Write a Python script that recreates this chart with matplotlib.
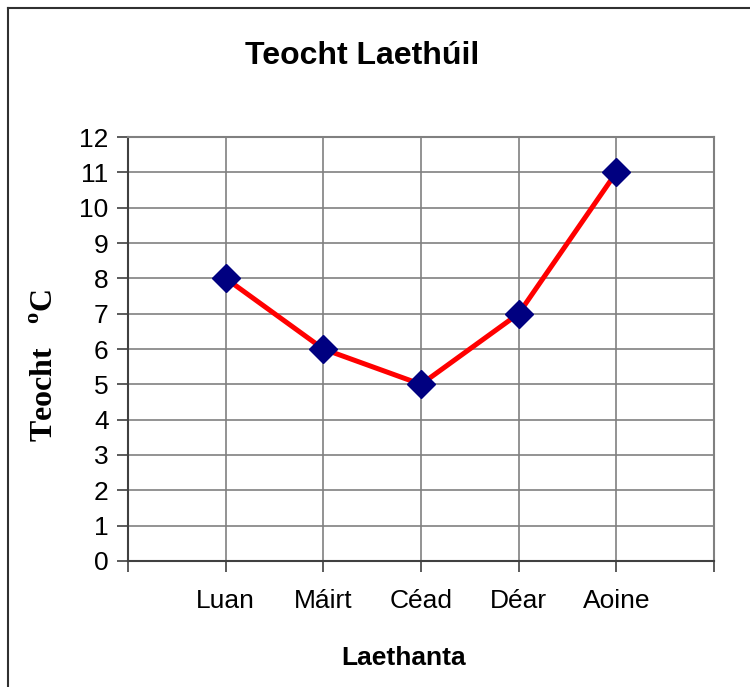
import matplotlib
matplotlib.use("Agg")
import matplotlib.pyplot as plt
from matplotlib.lines import Line2D

days = ["Luan", "Máirt", "Céad", "Déar", "Aoine"]
temps = [8, 6, 5, 7, 11]
yticks = list(range(0, 13))

plt.rcParams['font.family'] = ['Liberation Sans', 'DejaVu Sans']
plt.rcParams['mathtext.fontset'] = 'custom'
plt.rcParams['mathtext.rm'] = 'Liberation Serif:bold'
plt.rcParams['mathtext.bf'] = 'Liberation Serif:bold'

W, H = 750, 687
fig = plt.figure(figsize=(7.5, 6.87), dpi=100)

# outer border (left and top visible; right/bottom clipped)
fig.add_artist(Line2D([8/W, 8/W], [0, 1 - 8/H], color='#303030', lw=1.5, transform=fig.transFigure))
fig.add_artist(Line2D([8/W, 1], [1 - 8/H, 1 - 8/H], color='#303030', lw=1.5, transform=fig.transFigure))

left, right, top, bottom = 128, 714, 137, 561
ax = fig.add_axes([left/W, 1 - bottom/H, (right-left)/W, (bottom-top)/H])

x = list(range(len(days)))
ax.plot(x, temps, color='#ff0000', lw=3.6, zorder=3)
ax.plot(x, temps, linestyle='none', marker='D', markersize=14, color='#000080', zorder=4)

ax.set_xlim(-1, len(days))
ax.set_ylim(0, 12)
ax.set_yticks(yticks)
ax.set_yticklabels([str(v) for v in yticks], fontsize=19)
ax.set_xticks(range(-1, len(days) + 1))
ax.set_xticklabels([''] + days + [''], fontsize=19)
ax.grid(True, color='#808080', lw=1.2)
ax.set_axisbelow(True)
ax.tick_params(axis='both', direction='out', length=8, width=1.2, color='#404040')
ax.tick_params(axis='y', pad=6)
ax.tick_params(axis='x', pad=12)
for s in ['top', 'right']:
    ax.spines[s].set_color('#808080')
    ax.spines[s].set_linewidth(1.5)
for s in ['left', 'bottom']:
    ax.spines[s].set_color('#404040')
    ax.spines[s].set_linewidth(1.5)

fig.text(362/W, 1 - 56/H, 'Teocht Laethúil', ha='center', va='center', fontsize=23, fontweight='bold')
fig.text(404/W, 1 - 658/H, 'Laethanta', ha='center', va='center', fontsize=19, fontweight='bold')
fig.text(46/W, 1 - 365/H, r'Teocht   $^{\mathrm{o}}$C', ha='center', va='center', rotation=90,
         fontsize=23, fontweight='bold', family='Liberation Serif')

fig.savefig('out.png', dpi=100)
